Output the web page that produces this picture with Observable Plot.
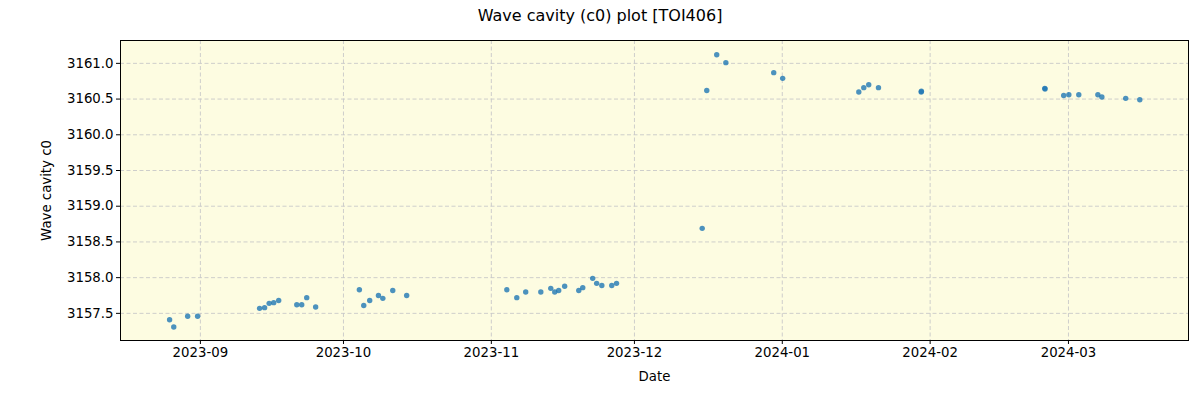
<!DOCTYPE html>
<html>
<head>
<meta charset="utf-8">
<script src="https://cdn.jsdelivr.net/npm/d3@7"></script>
<script src="https://cdn.jsdelivr.net/npm/@observablehq/plot@0.6"></script>
<style>
  body { margin: 0; background: #fff; font-family: "DejaVu Sans", sans-serif; }
  #title { width: 1200px; height: 32px; line-height: 32px; text-align: center; font-size: 16px; color: #000; }
</style>
</head>
<body>
<div id="title">Wave cavity (c0) plot [TOI406]</div>
<div id="chart"></div>
<script>
const dates = [
  "2023-08-25T13:00","2023-08-26T10:00","2023-08-29T08:00","2023-08-31T10:00",
  "2023-09-13T10:00","2023-09-14T11:00","2023-09-15T10:00","2023-09-16T09:00","2023-09-17T10:00",
  "2023-09-21T05:00","2023-09-22T06:00","2023-09-23T07:00","2023-09-25T04:00",
  "2023-10-04T08:00","2023-10-05T06:00","2023-10-06T12:00","2023-10-08T08:00","2023-10-09T06:00",
  "2023-10-11T08:00","2023-10-14T06:00",
  "2023-11-04T06:00","2023-11-06T08:00","2023-11-08T05:00","2023-11-11T09:00","2023-11-13T11:00",
  "2023-11-14T07:00","2023-11-15T03:00","2023-11-16T09:00","2023-11-19T08:00","2023-11-20T04:00",
  "2023-11-22T06:00","2023-11-23T02:00","2023-11-24T04:00","2023-11-26T06:00","2023-11-27T06:00",
  "2023-12-15T05:00","2023-12-16T04:00","2023-12-18T06:00","2023-12-20T04:00",
  "2023-12-30T05:00","2024-01-01T02:00",
  "2024-01-17T01:00","2024-01-18T02:00","2024-01-19T03:00","2024-01-21T04:00",
  "2024-01-30T03:00","2024-01-30T04:00",
  "2024-02-25T01:00","2024-02-25T02:00","2024-02-29T00:00","2024-03-01T02:00","2024-03-03T04:00",
  "2024-03-07T04:00","2024-03-08T00:00","2024-03-13T00:00","2024-03-15T23:00"
];
const c0 = [
  3157.41, 3157.31, 3157.46, 3157.46,
  3157.57, 3157.58, 3157.64, 3157.65, 3157.68,
  3157.62, 3157.62, 3157.72, 3157.59,
  3157.83, 3157.61, 3157.68, 3157.75, 3157.71,
  3157.82, 3157.75,
  3157.83, 3157.72, 3157.80, 3157.80, 3157.85,
  3157.80, 3157.82, 3157.88, 3157.82, 3157.86,
  3157.99, 3157.92, 3157.89, 3157.89, 3157.92,
  3158.69, 3160.62, 3161.12, 3161.01,
  3160.87, 3160.79,
  3160.60, 3160.66, 3160.70, 3160.66,
  3160.60, 3160.61,
  3160.65, 3160.64, 3160.55, 3160.56, 3160.56,
  3160.56, 3160.53, 3160.51, 3160.49
];
const yTicks = [3157.5, 3158.0, 3158.5, 3159.0, 3159.5, 3160.0, 3160.5, 3161.0];
const xTickLabels = ["2023-09", "2023-10", "2023-11", "2023-12", "2024-01", "2024-02", "2024-03"];
const xDomain = ["2023-08-15T06:00", "2024-03-26T04:00"];
const yDomain = [3157.12, 3161.32];

const parse = d3.isoParse;
const data = dates.map((d, i) => ({date: parse(d), c0: c0[i]}));
const xTicks = xTickLabels.map(s => parse(s + "-01T00:00"));

const chart = Plot.plot({
  width: 1200,
  height: 368,
  marginTop: 8,
  marginBottom: 60,
  marginLeft: 120,
  marginRight: 12,
  style: {fontFamily: "DejaVu Sans, sans-serif", fontSize: "13.3px", color: "#000", background: "#fff"},
  x: {type: "utc", domain: xDomain.map(parse)},
  y: {domain: yDomain},
  marks: [
    Plot.frame({fill: "#fdfce1"}),
    Plot.ruleX(xTicks, {stroke: "#c8c8c8", strokeDasharray: "4,2.5", strokeWidth: 0.9}),
    Plot.ruleY(yTicks, {stroke: "#c8c8c8", strokeDasharray: "4,2.5", strokeWidth: 0.9}),
    Plot.dot(data, {x: "date", y: "c0", r: 2.7, fill: "#1f77b4", fillOpacity: 0.8, stroke: "none"}),
    Plot.frame({stroke: "#000", strokeWidth: 1}),
    Plot.axisX({ticks: xTicks, tickFormat: d3.utcFormat("%Y-%m"), tickSize: 4, tickPadding: 3, fontSize: 13.3,
                label: "Date", labelAnchor: "center", labelOffset: 40, labelArrow: false}),
    Plot.axisY({ticks: yTicks, tickFormat: d3.format(".1f"), tickSize: 4, tickPadding: 3, fontSize: 13.3,
                label: "Wave cavity c0", labelAnchor: "center", labelOffset: 79, labelArrow: false})
  ]
});
document.getElementById("chart").appendChild(chart);
</script>
</body>
</html>
